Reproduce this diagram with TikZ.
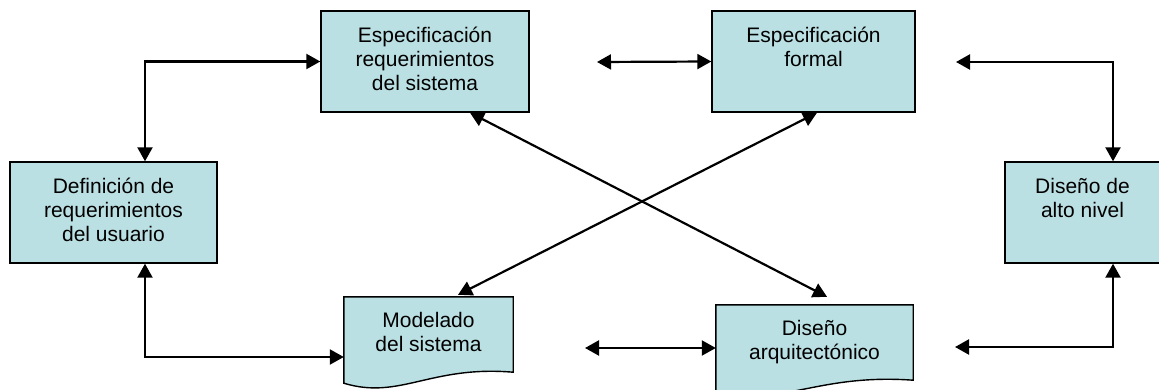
\documentclass[tikz,border=0pt]{standalone}
\usepackage{fontspec}
\setmainfont{Liberation Sans}
\usetikzlibrary{arrows.meta,calc}
\definecolor{boxfill}{RGB}{187,224,227}
\begin{document}
\begin{tikzpicture}[x=1pt,y=-1pt,
  boxA/.style={rectangle, draw=black, line width=1.4pt, fill=boxfill, inner sep=0pt},
  docA/.style={rectangle, draw=none, inner sep=0pt},
  docline/.style={draw=black, line width=1.4pt, fill=boxfill},
  lbl/.style={font=\fontsize{21}{24}\selectfont, align=center, anchor=base, inner sep=0pt, text=black},
  arr/.tip={Triangle[length=14pt,width=15pt]},
  conn/.style={line width=2.2pt, arr-arr},
]
\useasboundingbox (0,0) rectangle (1159,390);
\clip (0,0) rectangle (1159,390);

% boxes
\node[boxA, minimum width=208pt, minimum height=101pt] (b1) at (425,61.5) {};
\node[boxA, minimum width=203pt, minimum height=101pt] (b2) at (813.5,61.5) {};
\node[boxA, minimum width=207pt, minimum height=101pt] (du) at (113.5,212.5) {};
\node[boxA, minimum width=155pt, minimum height=101pt] (an) at (1082.5,212.5) {};
\node[docA, minimum width=169pt, minimum height=86pt] (mo) at (428.5,340) {};
\node[docA, minimum width=197pt, minimum height=86pt] (da) at (814.5,348) {};

% document shapes
\draw[docline] (mo.north west) -- (mo.north east) -- ([yshift=11pt]mo.south east)
  .. controls +(-83,-7) and +(56,17) .. (mo.south west) -- cycle;
\draw[docline] (da.north west) -- (da.north east) -- ([yshift=11pt]da.south east)
  .. controls +(-97,-7) and +(65,17) .. (da.south west) -- cycle;

% texts (anchor base = baseline of last line)
\node[lbl] (b1t) at ($(b1.north)+(0,80)$) {Especificación\\requerimientos\\del sistema};
\node[lbl] (b2t) at ($(b2.north)+(0,56)$) {Especificación\\formal};
\node[lbl] (dut) at ($(du.north)+(0,80)$) {Definición de\\requerimientos\\del usuario};
\node[lbl] (ant) at ($(an.north)+(0,56)$) {Diseño de\\alto nivel};
\node[lbl] (mot) at ($(mo.north)+(0,55)$) {Modelado\\del sistema};
\node[lbl] (dat) at ($(da.north)+(0,55)$) {Diseño\\arquitectónico};

% free ends
\coordinate (tm) at (597,62);
\coordinate (tr) at (956,62);
\coordinate (bm) at (585,348);
\coordinate (br) at (955,347);

% connectors
\draw[conn] ([xshift=31.5pt]du.north) |- (b1.west);
\draw[conn] ([xshift=31.5pt]du.south) |- ([yshift=-17pt]mo.west);
\draw[conn] (tm) -- (b2.west);
\draw[conn] (tr) -| ([xshift=30.5pt]an.north);
\draw[conn] (bm) -- (da.west);
\draw[conn] (br) -| ([xshift=30.5pt]an.south);
\draw[conn] ([xshift=45pt]b1.south) -- ([xshift=12.5pt,yshift=8pt]da.north);
\draw[conn] ([xshift=3.5pt]b2.south) -- ([xshift=29.5pt,yshift=2pt]mo.north);
\end{tikzpicture}
\end{document}
